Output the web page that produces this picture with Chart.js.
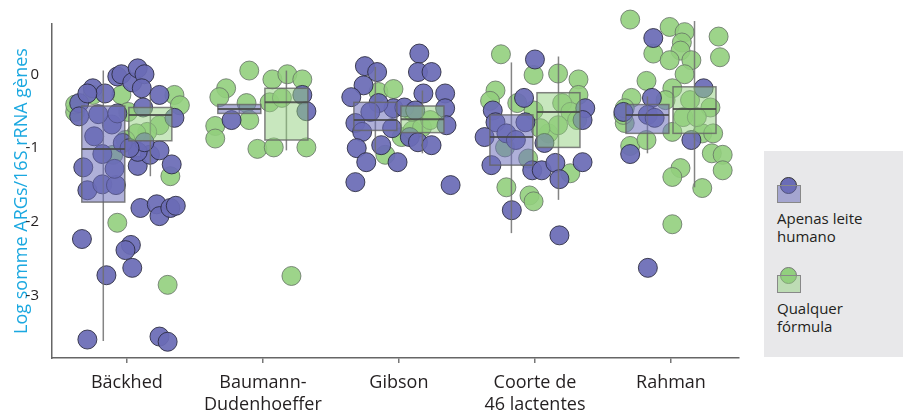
<!DOCTYPE html>
<html lang="pt">
<head>
<meta charset="UTF-8">
<title>ARGs</title>
<script src="https://cdn.jsdelivr.net/npm/chart.js"></script>
<style>
  body { margin: 0; background: #fff; font-family: "Open Sans", sans-serif; }
  #wrap { position: relative; width: 903px; height: 414px; }
  #legendBox { position: absolute; left: 764px; top: 151px; width: 139px; height: 206px; background: #e8e8ea; }
  .item { position: absolute; left: 13px; font-size: 15px; line-height: 18px; color: #231f20; }
  .icon { position: relative; width: 24px; height: 26px; margin-bottom: 6px; }
  .icon .dot { position: absolute; left: 3px; top: 0; width: 15px; height: 15px; border-radius: 50%; }
  .icon .sq { position: absolute; left: 0; top: 8px; width: 22px; height: 16px; }
</style>
</head>
<body>
<div id="wrap">
  <canvas id="argChart" width="903" height="414"></canvas>
  <div id="legendBox">
    <div class="item" style="top:26px">
      <div class="icon">
        <div class="dot" style="background:#6a6cb6;border:1px solid #333"></div>
        <div class="sq" style="background:rgba(110,112,185,0.55);border:1px solid #888"></div>
      </div>
      Apenas leite<br>humano
    </div>
    <div class="item" style="top:116px">
      <div class="icon">
        <div class="dot" style="background:#92cf7e;border:1px solid #777"></div>
        <div class="sq" style="background:rgba(146,207,125,0.5);border:1px solid #888"></div>
      </div>
      Qualquer<br>fórmula
    </div>
  </div>
</div>

<script>
  const categories = ['Bäckhed', ['Baumann-', 'Dudenhoeffer'], 'Gibson', ['Coorte de', '46 lactentes'], 'Rahman'];
  const yTicks = [0, -1, -2, -3];

  // [jitter around category, value]
  const backhedHuman = [
    [-0.29,-3.59],[0.24,-3.55],[0.30,-3.62],[-0.15,-2.72],[0.04,-2.62],[-0.33,-2.23],[0.03,-2.31],[-0.01,-2.38],
    [0.10,-1.81],[0.22,-1.76],[0.24,-1.92],[0.32,-1.81],[0.36,-1.78],[-0.29,-1.57],[-0.18,-1.49],[-0.08,-1.50],
    [-0.09,-1.28],[-0.32,-1.26],[0.08,-1.24],[0.33,-1.22],[-0.18,-1.08],[0.17,-1.09],[0.24,-1.03],[0.08,-1.05],
    [0.13,-0.92],[-0.03,-0.93],[-0.24,-0.84],[-0.11,-0.68],[-0.21,-0.54],[-0.07,-0.53],[-0.35,-0.39],[-0.35,-0.57],
    [-0.25,-0.19],[-0.16,-0.26],[-0.29,-0.26],[-0.07,-0.03],[-0.04,0.00],[0.04,-0.11],[0.08,0.08],[0.13,0.00],
    [0.11,-0.19],[0.24,-0.28],[0.12,-0.45],[0.02,-1.00],[0.35,-0.59]
  ];
  const backhedFormula = [
    [0.30,-2.85],[-0.07,-2.01],[0.32,-1.38],[-0.25,-0.28],[-0.04,-0.28],[0.35,-0.28],[0.39,-0.42],[-0.38,-0.51],
    [-0.38,-0.41],[0.24,-0.69],[0.15,-0.78],[0.07,-0.80],[-0.01,-0.89],[0.01,-0.51],[-0.10,-1.09]
  ];
  const baumannHuman = [[-0.23,-0.62],[0.29,-0.28],[0.32,-0.50]];
  const baumannFormula = [
    [-0.10,0.05],[-0.27,-0.19],[-0.32,-0.31],[-0.12,-0.39],[-0.10,-0.62],[-0.35,-0.70],[-0.35,-0.87],[-0.04,-1.01],
    [0.08,-0.99],[0.32,-0.99],[0.07,-0.07],[0.18,0.00],[0.29,-0.07],[0.05,-0.38],[0.14,-0.32],[0.21,-2.73]
  ];
  const gibsonHuman = [
    [0.15,0.28],[0.14,0.03],[0.24,0.03],[-0.25,0.11],[-0.16,0.03],[-0.26,-0.15],[-0.35,-0.31],[0.34,-0.26],
    [0.18,-0.26],[0.34,-0.46],[0.35,-0.69],[-0.32,-0.66],[-0.27,-0.78],[-0.31,-1.00],[-0.24,-1.19],[-0.13,-0.96],
    [-0.01,-1.19],[0.08,-0.85],[0.14,-0.92],[0.24,-0.96],[-0.32,-1.46],[0.38,-1.50],[-0.04,-0.46],[0.04,-0.45],
    [-0.15,-0.39],[-0.21,-0.51],[-0.05,-0.73],[0.12,-0.49]
  ];
  const gibsonFormula = [
    [-0.15,-0.24],[-0.04,-0.20],[-0.10,-1.09],[0.02,-0.85],[0.10,-0.76],[0.17,-0.72],[0.23,-0.62],[0.10,-0.51]
  ];
  const coorteHuman = [
    [0.00,0.20],[-0.08,-0.32],[-0.31,-0.49],[-0.29,-0.65],[-0.37,-0.85],[-0.21,-0.80],[-0.14,-0.89],[-0.07,-0.65],
    [0.37,-0.46],[0.35,-0.62],[-0.32,-1.23],[-0.02,-1.30],[0.05,-1.30],[0.15,-1.20],[0.18,-1.42],[0.35,-1.19],
    [-0.17,-1.84],[0.18,-2.18],[0.07,-0.93]
  ];
  const coorteFormula = [
    [-0.25,0.27],[-0.01,-0.01],[0.17,0.01],[0.32,-0.07],[-0.29,-0.22],[-0.33,-0.36],[-0.13,-0.39],[0.32,-0.28],
    [0.20,-0.39],[0.26,-0.51],[-0.21,-1.53],[-0.04,-1.64],[-0.01,-1.72],[0.26,-1.34],[-0.05,-1.14],[-0.22,-0.99],
    [0.10,-0.80],[0.17,-0.69],[0.04,-0.73],[0.31,-0.62],[-0.01,-0.49]
  ];
  const rahmanHuman = [
    [-0.13,0.49],[-0.14,-0.32],[-0.35,-0.51],[-0.17,-0.55],[-0.12,-0.59],[0.24,-0.19],[0.15,-0.89],[-0.30,-1.08],
    [-0.17,-2.62]
  ];
  const rahmanFormula = [
    [-0.30,0.74],[-0.01,0.64],[0.10,0.57],[0.08,0.43],[0.07,0.32],[-0.13,0.28],[-0.01,0.19],[0.15,0.19],
    [0.35,0.51],[0.36,0.23],[0.10,0.00],[-0.18,-0.09],[0.01,-0.19],[-0.29,-0.32],[-0.34,-0.66],[-0.30,-0.97],
    [-0.18,-0.89],[0.01,-0.78],[0.07,-1.27],[0.01,-1.39],[0.30,-1.07],[0.38,-1.09],[0.38,-1.30],[0.23,-1.54],
    [0.01,-2.03],[0.23,-0.80],[0.14,-0.35],[0.29,-0.45],[0.09,-0.58],[0.19,-0.58],[0.31,-0.80],[-0.35,-0.55],
    [-0.34,-0.46],[-0.04,-0.35]
  ];

  // box stats per category: [lower whisker, lower quartile, median, upper quartile, upper whisker]
  const humanBoxes = [
    [-3.61, -1.73, -1.01, -0.43, 0.05],
    [-0.53, -0.53, -0.47, -0.41, -0.41],
    [-1.07, -0.76, -0.62, -0.38, 0.10],
    [-2.15, -1.23, -0.85, -0.55, 0.16],
    [-1.07, -0.80, -0.55, -0.41, -0.30]
  ];
  const formulaBoxes = [
    [-1.38, -0.90, -0.55, -0.45, -0.28],
    [-1.03, -0.89, -0.38, -0.19, 0.05],
    [-1.07, -0.79, -0.61, -0.43, -0.22],
    [-1.70, -0.99, -0.51, -0.25, 0.24],
    [-1.53, -0.80, -0.47, -0.17, 0.72]
  ];

  const humanGroups = [backhedHuman, baumannHuman, gibsonHuman, coorteHuman, rahmanHuman];
  const formulaGroups = [backhedFormula, baumannFormula, gibsonFormula, coorteFormula, rahmanFormula];

  const boxOffset = 0.173;
  const boxHalf = 0.158;

  function toPoints(groups) {
    const out = [];
    groups.forEach((g, i) => g.forEach(p => out.push({ x: i + p[0], y: p[1] })));
    return out;
  }

  const boxPlugin = {
    id: 'boxes',
    afterDatasetsDraw(chart) {
      const { ctx, scales: { x, y } } = chart;
      const half = x.getPixelForValue(boxHalf) - x.getPixelForValue(0);
      const series = [
        { stats: humanBoxes, off: -boxOffset, fill: 'rgba(110,112,185,0.55)' },
        { stats: formulaBoxes, off: boxOffset, fill: 'rgba(146,207,125,0.5)' }
      ];
      ctx.save();
      series.forEach(s => {
        s.stats.forEach((b, i) => {
          const cx = x.getPixelForValue(i + s.off);
          ctx.strokeStyle = 'rgba(110,110,110,0.85)';
          ctx.lineWidth = 1.5;
          ctx.beginPath();
          ctx.moveTo(cx, y.getPixelForValue(b[4]));
          ctx.lineTo(cx, y.getPixelForValue(b[0]));
          ctx.stroke();
          const top = y.getPixelForValue(b[3]);
          const bot = y.getPixelForValue(b[1]);
          ctx.fillStyle = s.fill;
          ctx.fillRect(cx - half, top, half * 2, bot - top);
          ctx.strokeStyle = 'rgba(100,100,100,0.8)';
          ctx.strokeRect(cx - half, top, half * 2, bot - top);
          ctx.strokeStyle = 'rgba(70,70,70,0.85)';
          ctx.lineWidth = 2;
          const my = y.getPixelForValue(b[2]);
          ctx.beginPath();
          ctx.moveTo(cx - half, my);
          ctx.lineTo(cx + half, my);
          ctx.stroke();
        });
      });
      ctx.restore();
    }
  };

  const font = '"Open Sans", sans-serif';

  new Chart(document.getElementById('argChart'), {
    type: 'scatter',
    data: {
      datasets: [
        {
          label: 'Apenas leite humano',
          data: toPoints(humanGroups),
          backgroundColor: 'rgba(106,108,182,0.93)',
          borderColor: 'rgba(40,40,60,0.85)',
          borderWidth: 1,
          pointRadius: 9.5,
          clip: false,
          order: 1
        },
        {
          label: 'Qualquer fórmula',
          data: toPoints(formulaGroups),
          backgroundColor: 'rgba(146,207,125,0.9)',
          borderColor: 'rgba(100,112,100,0.8)',
          borderWidth: 1,
          pointRadius: 9.5,
          clip: false,
          order: 2
        }
      ]
    },
    options: {
      responsive: false,
      animation: false,
      devicePixelRatio: 1,
      layout: { padding: { top: 24, right: 164, left: 0, bottom: 0 } },
      plugins: { legend: { display: false }, tooltip: { enabled: false } },
      scales: {
        x: {
          type: 'linear',
          min: -0.55,
          max: 4.5,
          afterBuildTicks: s => { s.ticks = categories.map((c, i) => ({ value: i })); },
          afterFit: s => { s.height = 56; },
          ticks: {
            autoSkip: false,
            maxRotation: 0,
            padding: 9,
            color: '#231f20',
            font: { family: font, size: 18, lineHeight: 1.22 },
            callback: v => categories[v]
          },
          grid: { display: true, drawOnChartArea: false, drawTicks: true, tickLength: 5, color: '#777', lineWidth: 1.5 },
          border: { display: true, color: '#666', width: 1.5 }
        },
        y: {
          min: -3.84,
          max: 0.68,
          afterBuildTicks: s => { s.ticks = yTicks.map(v => ({ value: v })); },
          afterFit: s => { s.width = 52; },
          ticks: { padding: 5, color: '#231f20', font: { family: font, size: 15 } },
          grid: { display: false },
          border: { display: true, color: '#666', width: 1.5 },
          title: {
            display: true,
            text: 'Log somme ARGs/16S rRNA gènes',
            color: '#1ba8e0',
            font: { family: font, size: 18 },
            padding: { top: 11, bottom: 0 }
          }
        }
      }
    },
    plugins: [boxPlugin]
  });
</script>
</body>
</html>
